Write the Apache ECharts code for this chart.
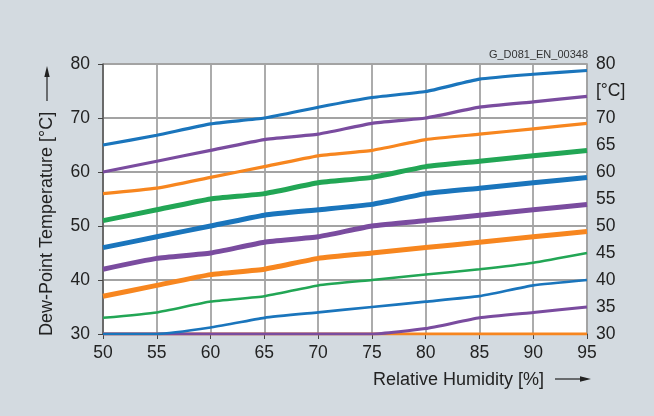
<!DOCTYPE html>
<html>
<head>
<meta charset="utf-8">
<script src="https://cdn.jsdelivr.net/npm/echarts@6/dist/echarts.min.js"></script>
<style>
html,body{margin:0;padding:0;background:#d3dae0;}
#c{width:654px;height:416px;}
</style>
</head>
<body>
<div id="c"></div>
<script>
const humidity = [50, 55, 60, 65, 70, 75, 80, 85, 90, 95];
const leftTicks = [30, 40, 50, 60, 70, 80];
const rightTickLabels = {30:'30',35:'35',40:'40',45:'45',50:'50',55:'55',60:'60',65:'65',70:'70',75:'[°C]',80:'80'};
const yTitle = 'Dew-Point Temperature [°C]';
const xTitle = 'Relative Humidity [%]';
const docCode = 'G_D081_EN_00348';

const orange30 = [30, 30, 30, 30, 30, 30, 30, 30, 30, 30];
const purple30 = [30, 30, 30, 30, 30, 30, 31, 33, 34, 35];
const blue30   = [30, 30, 31.2, 33, 34, 35, 36, 37, 39, 40];
const green33  = [33, 34, 36, 37, 39, 40, 41, 42, 43.2, 45];
const orange37 = [37, 39, 41, 42, 44, 45, 46, 47, 48, 49];
const purple42 = [42, 44, 45, 47, 48, 50, 51, 52, 53, 54];
const blue46   = [46, 48, 50, 52, 53, 54, 56, 57, 58, 59];
const green51  = [51, 53, 55, 56, 58, 59, 61, 62, 63, 64];
const orange56 = [56, 57, 59, 61, 63, 64, 66, 67, 68, 69];
const purple60 = [60, 62, 64, 66, 67, 69, 70, 72, 73, 74];
const blue65   = [65, 66.8, 68.9, 70, 72, 73.8, 74.9, 77.2, 78.1, 78.8];

const BLUE = '#1a75bc', PURPLE = '#7a4c9f', ORANGE = '#f7861f', GREEN = '#22a655';

function mk(name, arr, color, width) {
  return {
    name: name, type: 'line', xAxisIndex: 0, yAxisIndex: 0,
    data: humidity.map((h, i) => [h, arr[i]]),
    showSymbol: false, smooth: 0.15, silent: true,
    lineStyle: { color: color, width: width, cap: 'butt' },
    itemStyle: { color: color }
  };
}

const chart = echarts.init(document.getElementById('c'), null, { renderer: 'canvas' });
const font = 'Liberation Sans, Arial, Helvetica, sans-serif';
const TXT = '#222';
chart.setOption({
  backgroundColor: '#d3dae0',
  animation: false,
  textStyle: { fontFamily: font },
  grid: { left: 103, right: 67, top: 64, bottom: 82, show: true, backgroundColor: '#ffffff', borderWidth: 0 },
  xAxis: {
    type: 'value', min: 50, max: 95, interval: 5,
    axisLine: { show: true, lineStyle: { color: '#555', width: 1.5 } },
    axisTick: { show: true, inside: false, length: 5, lineStyle: { color: '#444' } },
    axisLabel: { fontSize: 17.5, color: TXT, margin: 10, fontFamily: font },
    splitLine: { show: true, lineStyle: { color: '#a3a3a3', width: 1.8 } }
  },
  yAxis: [{
    type: 'value', min: leftTicks[0], max: leftTicks[leftTicks.length - 1], interval: 10, position: 'left',
    axisLine: { show: true, lineStyle: { color: '#555', width: 1.5 } },
    axisTick: { show: true, inside: false, length: 5, lineStyle: { color: '#444' } },
    axisLabel: { fontSize: 17.5, color: TXT, margin: 13, fontFamily: font },
    splitLine: { show: true, lineStyle: { color: '#a3a3a3', width: 1.8 } }
  }, {
    type: 'value', min: 30, max: 80, interval: 5, position: 'right',
    axisLine: { show: true, lineStyle: { color: '#a3a3a3', width: 1.8 } },
    axisTick: { show: false },
    axisLabel: { fontSize: 17.5, color: TXT, margin: 9, fontFamily: font,
      formatter: v => rightTickLabels[v] !== undefined ? rightTickLabels[v] : '' },
    splitLine: { show: false }
  }],
  graphic: [
    { type: 'text', right: 66, top: 49, style: { text: docCode, font: '11px ' + font, fill: '#333' } },
    // y axis title, rotated
    { type: 'text', x: 47, y: 336, rotation: Math.PI / 2,
      style: { text: yTitle, font: '18px ' + font, fill: TXT, align: 'left', verticalAlign: 'middle' } },
    { type: 'line', shape: { x1: 47, y1: 101, x2: 47, y2: 76 }, style: { stroke: '#222', lineWidth: 1.2 } },
    { type: 'polygon', shape: { points: [[47, 66], [44.3, 77], [49.7, 77]] }, style: { fill: '#222' } },
    // x axis title
    { type: 'text', x: 373, y: 380,
      style: { text: xTitle, font: '18px ' + font, fill: TXT, align: 'left', verticalAlign: 'middle' } },
    { type: 'line', shape: { x1: 555, y1: 379, x2: 581, y2: 379 }, style: { stroke: '#222', lineWidth: 1.2 } },
    { type: 'polygon', shape: { points: [[591, 379], [580, 376.3], [580, 381.7]] }, style: { fill: '#222' } }
  ],
  series: [
    mk('o30', orange30, ORANGE, 3),
    mk('p30', purple30, PURPLE, 3),
    mk('b30', blue30, BLUE, 2.7),
    mk('g33', green33, GREEN, 2.5),
    mk('o37', orange37, ORANGE, 5),
    mk('p42', purple42, PURPLE, 5),
    mk('b46', blue46, BLUE, 5),
    mk('g51', green51, GREEN, 5),
    mk('o56', orange56, ORANGE, 3.2),
    mk('p60', purple60, PURPLE, 3.2),
    mk('b65', blue65, BLUE, 3.2)
  ]
});
</script>
</body>
</html>
